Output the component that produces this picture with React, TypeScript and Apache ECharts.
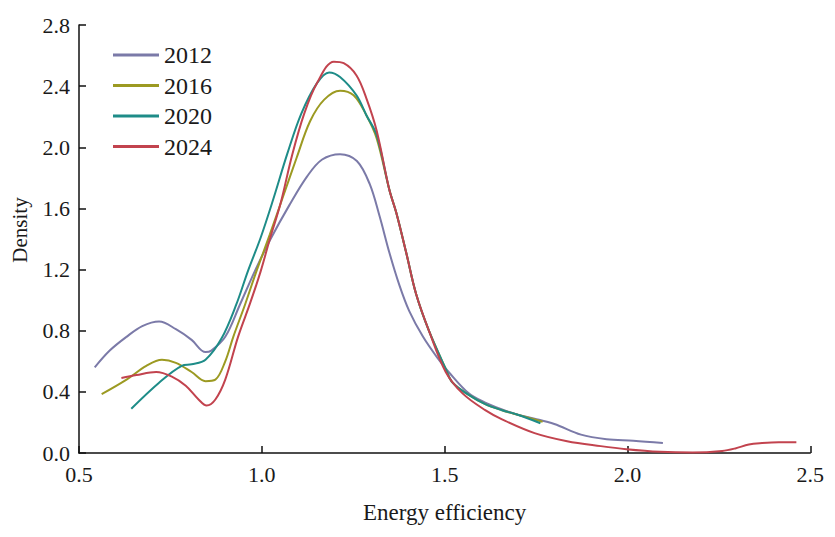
import React, { useEffect, useRef } from "react";
import * as echarts from "echarts";

const years = ["2012", "2016", "2020", "2024"];
const colors = ["#7b7aa8", "#9c9a22", "#1e8c88", "#c2434e"];

const x2012 = [0.543, 0.584, 0.63, 0.673, 0.719, 0.765, 0.808, 0.846, 0.862, 0.9, 0.94, 0.981, 1.024, 1.075, 1.124, 1.165, 1.214, 1.26, 1.295, 1.322, 1.349, 1.376, 1.403, 1.441, 1.484, 1.511, 1.566, 1.611, 1.657, 1.7, 1.746, 1.8, 1.873, 1.943, 2.016, 2.097];
const y2012 = [0.56, 0.67, 0.76, 0.83, 0.86, 0.81, 0.74, 0.66, 0.67, 0.76, 0.97, 1.19, 1.4, 1.62, 1.81, 1.92, 1.955, 1.91, 1.76, 1.55, 1.31, 1.1, 0.93, 0.76, 0.61, 0.53, 0.39, 0.33, 0.285, 0.25, 0.225, 0.19, 0.12, 0.09, 0.08, 0.065];

const x2016 = [0.562, 0.63, 0.684, 0.727, 0.765, 0.808, 0.846, 0.873, 0.9, 0.922, 0.954, 0.984, 1.022, 1.057, 1.095, 1.132, 1.17, 1.214, 1.251, 1.286, 1.314, 1.349, 1.368, 1.395, 1.422, 1.457, 1.503, 1.522, 1.566, 1.611, 1.657, 1.7, 1.768];
const y2016 = [0.385, 0.48, 0.57, 0.61, 0.59, 0.53, 0.47, 0.48, 0.6, 0.76, 0.97, 1.18, 1.43, 1.67, 1.93, 2.17, 2.31, 2.37, 2.34, 2.21, 2.06, 1.72, 1.57, 1.31, 1.04, 0.8, 0.55, 0.46, 0.38, 0.32, 0.28, 0.25, 0.205];

const x2020 = [0.643, 0.719, 0.781, 0.808, 0.846, 0.89, 0.93, 0.962, 0.997, 1.03, 1.07, 1.108, 1.151, 1.184, 1.214, 1.259, 1.286, 1.314, 1.349, 1.368, 1.395, 1.422, 1.457, 1.503, 1.522, 1.566, 1.611, 1.657, 1.7, 1.762];
const y2020 = [0.29, 0.46, 0.57, 0.58, 0.61, 0.75, 0.97, 1.19, 1.41, 1.65, 1.96, 2.22, 2.42, 2.49, 2.46, 2.34, 2.21, 2.08, 1.72, 1.57, 1.31, 1.04, 0.8, 0.55, 0.46, 0.38, 0.32, 0.28, 0.25, 0.195];

const x2024 = [0.616, 0.657, 0.711, 0.754, 0.792, 0.827, 0.849, 0.873, 0.9, 0.935, 0.968, 0.997, 1.022, 1.051, 1.083, 1.116, 1.151, 1.197, 1.224, 1.259, 1.286, 1.314, 1.349, 1.368, 1.395, 1.422, 1.457, 1.503, 1.549, 1.611, 1.657, 1.746, 1.835, 1.927, 1.997, 2.089, 2.178, 2.259, 2.295, 2.332, 2.368, 2.414, 2.462];
const y2024 = [0.49, 0.51, 0.53, 0.5, 0.44, 0.35, 0.31, 0.35, 0.48, 0.76, 0.98, 1.19, 1.4, 1.63, 1.95, 2.22, 2.42, 2.56, 2.55, 2.47, 2.32, 2.11, 1.72, 1.57, 1.31, 1.04, 0.8, 0.53, 0.39, 0.28, 0.22, 0.13, 0.077, 0.045, 0.025, 0.008, 0.003, 0.013, 0.03, 0.056, 0.065, 0.07, 0.07];

const xs = [x2012, x2016, x2020, x2024];
const ys = [y2012, y2016, y2020, y2024];

const FONT = "'Liberation Serif', 'Times New Roman', serif";

export default function App() {
  const ref = useRef<HTMLDivElement>(null);
  useEffect(() => {
    if (!ref.current) return;
    const chart = echarts.init(ref.current, null, { renderer: "svg" });
    const series = years.map((yr, i) => ({
      name: yr,
      type: "line",
      data: xs[i].map((x, j) => [x, ys[i][j]]),
      smooth: 0.35,
      showSymbol: false,
      symbol: "none",
      lineStyle: { color: colors[i], width: 2 },
      itemStyle: { color: colors[i] },
      z: 2 + i,
    }));
    chart.setOption({
      animation: false,
      backgroundColor: "#ffffff",
      grid: { left: 71, right: 8, top: 17, bottom: 67 },
      legend: {
        data: years.map((y, i) => ({ name: y, icon: "rect", itemStyle: { color: colors[i] } })),
        orient: "vertical",
        left: 100,
        top: 30,
        itemWidth: 46,
        itemHeight: 3,
        itemGap: 6.5,
        textStyle: { fontFamily: FONT, fontSize: 24, color: "#1a1a1a" },
      },
      xAxis: {
        type: "value",
        min: 0.5,
        max: 2.5,
        interval: 0.5,
        name: "Energy efficiency",
        nameLocation: "middle",
        nameGap: 48,
        nameTextStyle: { fontFamily: FONT, fontSize: 23, color: "#1a1a1a" },
        axisLine: { show: true, lineStyle: { color: "#111", width: 1.5 } },
        axisTick: { show: true, inside: true, length: 7, lineStyle: { color: "#111", width: 1.5 } },
        axisLabel: {
          fontFamily: FONT,
          fontSize: 22,
          color: "#1a1a1a",
          margin: 10,
          formatter: (v: number) => v.toFixed(1),
        },
        splitLine: { show: false },
      },
      yAxis: {
        type: "value",
        min: 0,
        max: 2.8,
        interval: 0.4,
        axisLine: { show: true, lineStyle: { color: "#111", width: 1.5 } },
        axisTick: { show: true, inside: true, length: 7, lineStyle: { color: "#111", width: 1.5 } },
        axisLabel: {
          fontFamily: FONT,
          fontSize: 22,
          color: "#1a1a1a",
          margin: 9,
          formatter: (v: number) => v.toFixed(1),
        },
        splitLine: { show: false },
      },
      graphic: [
        {
          type: "text",
          x: 12,
          y: 222,
          rotation: Math.PI / 2,
          style: {
            text: "Density",
            font: `21px ${FONT}`,
            fill: "#1a1a1a",
            textAlign: "center",
            textVerticalAlign: "middle",
          },
        },
      ],
      series,
    });
    return () => chart.dispose();
  }, []);
  return <div ref={ref} style={{ width: 819, height: 521 }} />;
}
